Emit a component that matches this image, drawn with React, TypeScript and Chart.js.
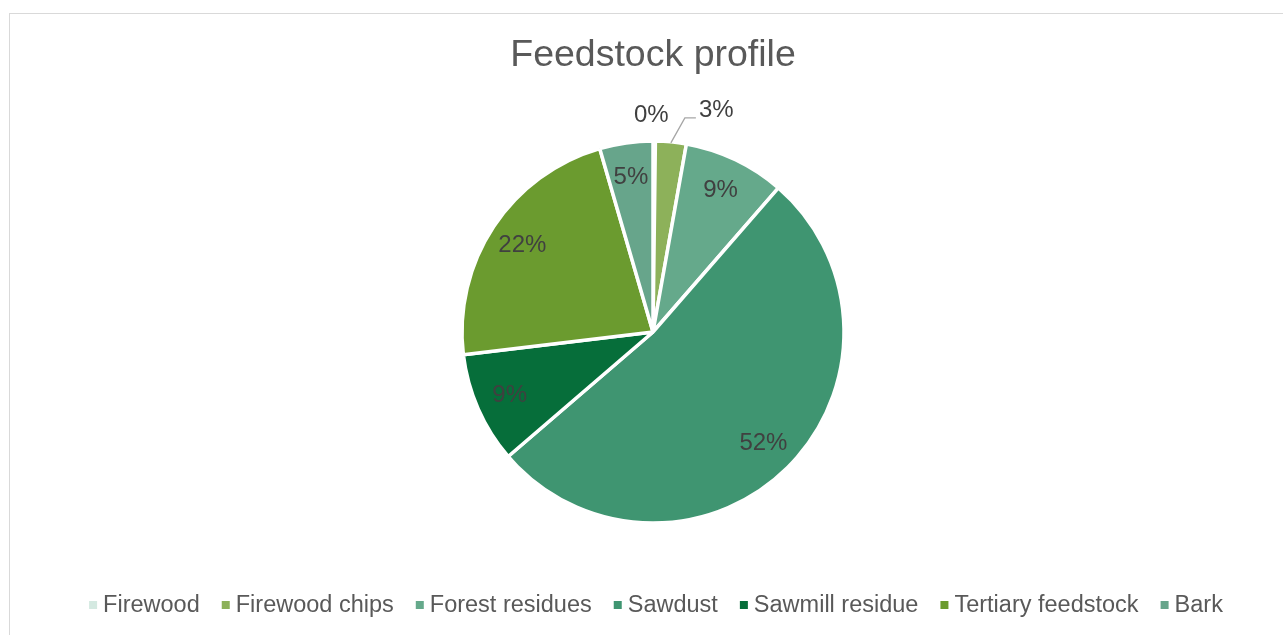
import React, { useEffect, useRef } from "react";
import { Chart, registerables } from "chart.js";

Chart.register(...registerables);

const categories = ["Firewood", "Firewood chips", "Forest residues", "Sawdust", "Sawmill residue", "Tertiary feedstock", "Bark"];
const shares = [0.2, 2.6, 8.6, 52.3, 9.4, 22.4, 4.5];
const percentLabels = ["0%", "3%", "9%", "52%", "9%", "22%", "5%"];
const sliceColors = ["#d4e9e1", "#8db15a", "#65a98b", "#3f9571", "#066e3a", "#6b9b2f", "#67a58b"];
const titleText = "Feedstock profile";

const FONT = "'Liberation Sans', Arial, sans-serif";

const overlayPlugin = {
  id: "overlay",
  afterDraw(chart: any) {
    const ctx = chart.ctx as CanvasRenderingContext2D;
    const meta = chart.getDatasetMeta(0);
    ctx.save();
    // title
    ctx.fillStyle = "#595959";
    ctx.font = `37.5px ${FONT}`;
    ctx.textAlign = "center";
    ctx.textBaseline = "middle";
    ctx.fillText(titleText, 653, 56);

    // data labels
    ctx.font = `24px ${FONT}`;
    ctx.fillStyle = "#404040";
    meta.data.forEach((arc: any, i: number) => {
      const p = arc.getProps(["x", "y", "startAngle", "endAngle", "outerRadius"], true);
      const mid = (p.startAngle + p.endAngle) / 2;
      const R = p.outerRadius;
      if (i === 0) {
        const r = R + 26;
        ctx.textAlign = "center";
        ctx.fillText(percentLabels[i], p.x + Math.cos(mid) * r - 3, p.y + Math.sin(mid) * r);
      } else if (i === 1) {
        const ax = p.x + Math.cos(mid) * (R - 1);
        const ay = p.y + Math.sin(mid) * (R - 1);
        const ex = ax + 14;
        const ey = ay - 25;
        ctx.strokeStyle = "#a6a6a6";
        ctx.lineWidth = 1.3;
        ctx.beginPath();
        ctx.moveTo(ax, ay);
        ctx.lineTo(ex, ey);
        ctx.lineTo(ex + 11, ey);
        ctx.stroke();
        ctx.textAlign = "left";
        ctx.fillText(percentLabels[i], ex + 14, ey - 7);
      } else {
        const r = R * 0.82;
        ctx.textAlign = "center";
        ctx.fillText(percentLabels[i], p.x + Math.cos(mid) * r, p.y + Math.sin(mid) * r);
      }
    });

    // legend
    ctx.font = `23.5px ${FONT}`;
    ctx.textBaseline = "middle";
    ctx.textAlign = "left";
    const box = 8;
    const gapBoxText = 6;
    const gapItems = 22;
    const widths = categories.map((c) => box + gapBoxText + ctx.measureText(c).width);
    const total = widths.reduce((a, b) => a + b, 0) + gapItems * (categories.length - 1);
    let x = 656 - total / 2;
    const y = 605;
    categories.forEach((c, i) => {
      ctx.fillStyle = sliceColors[i];
      ctx.fillRect(x, y - box / 2, box, box);
      ctx.fillStyle = "#595959";
      ctx.fillText(c, x + box + gapBoxText, y + 1);
      x += widths[i] + gapItems;
    });
    ctx.restore();
  },
};

export default function App() {
  const ref = useRef<HTMLCanvasElement | null>(null);
  useEffect(() => {
    if (!ref.current) return;
    const chart = new Chart(ref.current, {
      type: "pie",
      data: {
        labels: categories,
        datasets: [
          {
            data: shares,
            backgroundColor: sliceColors,
            borderColor: "#ffffff",
            borderWidth: 3.5,
          },
        ],
      },
      options: {
        responsive: false,
        animation: false,
        radius: 191,
        layout: { padding: { left: 23, right: 0, top: 120, bottom: 91 } },
        plugins: {
          legend: { display: false },
          title: { display: false },
          tooltip: { enabled: false },
        },
      } as any,
      plugins: [overlayPlugin],
    });
    return () => chart.destroy();
  }, []);
  return (
    <div style={{ position: "fixed", left: 0, top: 0, width: 1283, height: 635, background: "#fff", overflow: "hidden" }}>
      <div
        style={{
          position: "absolute",
          left: 9,
          top: 13,
          width: 1300,
          height: 660,
          border: "1px solid #d9d9d9",
          boxSizing: "border-box",
        }}
      />
      <canvas ref={ref} width={1283} height={635} style={{ position: "absolute", left: 0, top: 0, width: 1283, height: 635 }} />
    </div>
  );
}
